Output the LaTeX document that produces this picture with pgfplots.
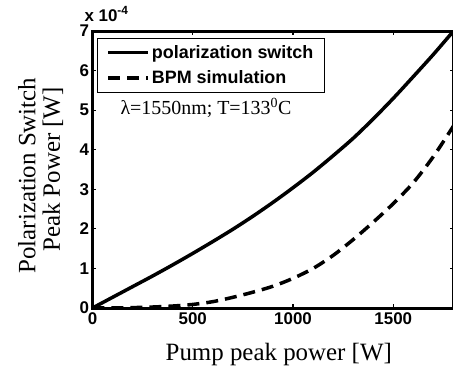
\documentclass[border=0pt]{standalone}
\usepackage{fontspec}
\setmainfont{Liberation Serif}
\setsansfont{Liberation Sans}
\usepackage{pgfplots}
\pgfplotsset{compat=1.18}
\begin{document}
\begin{tikzpicture}
\begin{axis}[
  scale only axis, width=361bp, height=277bp,
  xmin=0, xmax=1800, ymin=0, ymax=7,
  xtick={0,500,1000,1500}, ytick={0,1,2,3,4,5,6,7},
  tick align=inside, major tick length=4bp,
  every tick/.style={black, line width=1.2bp},
  axis line style={line width=3bp},
  clip mode=individual,
  /pgf/number format/assume math mode=true,
  /pgf/number format/1000 sep={},
  tick label style={font=\sffamily\bfseries\fontsize{17}{17}\selectfont},
  xticklabel style={yshift=-1bp},
  legend style={at={(rel axis cs:0.0125,0.975)}, anchor=north west, draw=black, line width=0.8bp,
    font=\sffamily\bfseries\fontsize{18}{18}\selectfont, row sep=7bp, inner xsep=9bp, inner ysep=5bp},
  legend cell align=left,
  legend image code/.code={\draw[#1] (0bp,0bp) -- (40bp,0bp);},
  xlabel={Pump peak power [W]},
  xlabel style={at={(rel axis cs:0.516,0)}, anchor=base, yshift=-52bp, font=\fontsize{25}{25}\selectfont},
]
\addplot[black, line width=3.5bp, smooth, tension=0.5] coordinates {
(0,0) (100,0.27) (200,0.54) (300,0.81) (400,1.09) (500,1.38) (600,1.68) (700,1.99)
(800,2.32) (900,2.67) (1000,3.04) (1100,3.43) (1200,3.85) (1300,4.29) (1400,4.78)
(1500,5.30) (1600,5.85) (1700,6.41) (1800,7.0)};
\addlegendentry{polarization switch}
\addplot[black, line width=3.5bp, dash pattern=on 12bp off 7bp, smooth, tension=0.5] coordinates {
(0,0) (100,0.003) (200,0.01) (300,0.025) (400,0.05) (500,0.09) (600,0.16) (700,0.27)
(800,0.40) (900,0.55) (1000,0.75) (1100,1.0) (1200,1.33) (1300,1.73) (1400,2.17)
(1500,2.64) (1600,3.17) (1700,3.83) (1800,4.6)};
\addlegendentry{BPM simulation}
\node[anchor=base west, font=\fontsize{20}{20}\selectfont] at (rel axis cs:0.068,0.697) {λ=1550nm; T=133\textsuperscript{0}C};
\node[anchor=base west, font=\sffamily\bfseries\fontsize{17}{17}\selectfont] at ([xshift=-11.5bp,yshift=10bp]rel axis cs:0,1) {x 10\textsuperscript{-4}};
\node[rotate=90, anchor=base, font=\fontsize{25}{25}\selectfont] at ([xshift=-57bp]rel axis cs:0,0.478) {Polarization Switch};
\node[rotate=90, anchor=base, font=\fontsize{25}{25}\selectfont] at ([xshift=-32.5bp]rel axis cs:0,0.5) {Peak Power [W]};
\end{axis}
\pgfresetboundingbox
\useasboundingbox (-92.5bp,-62bp) rectangle (360.5bp,308bp);
\end{tikzpicture}
\end{document}
